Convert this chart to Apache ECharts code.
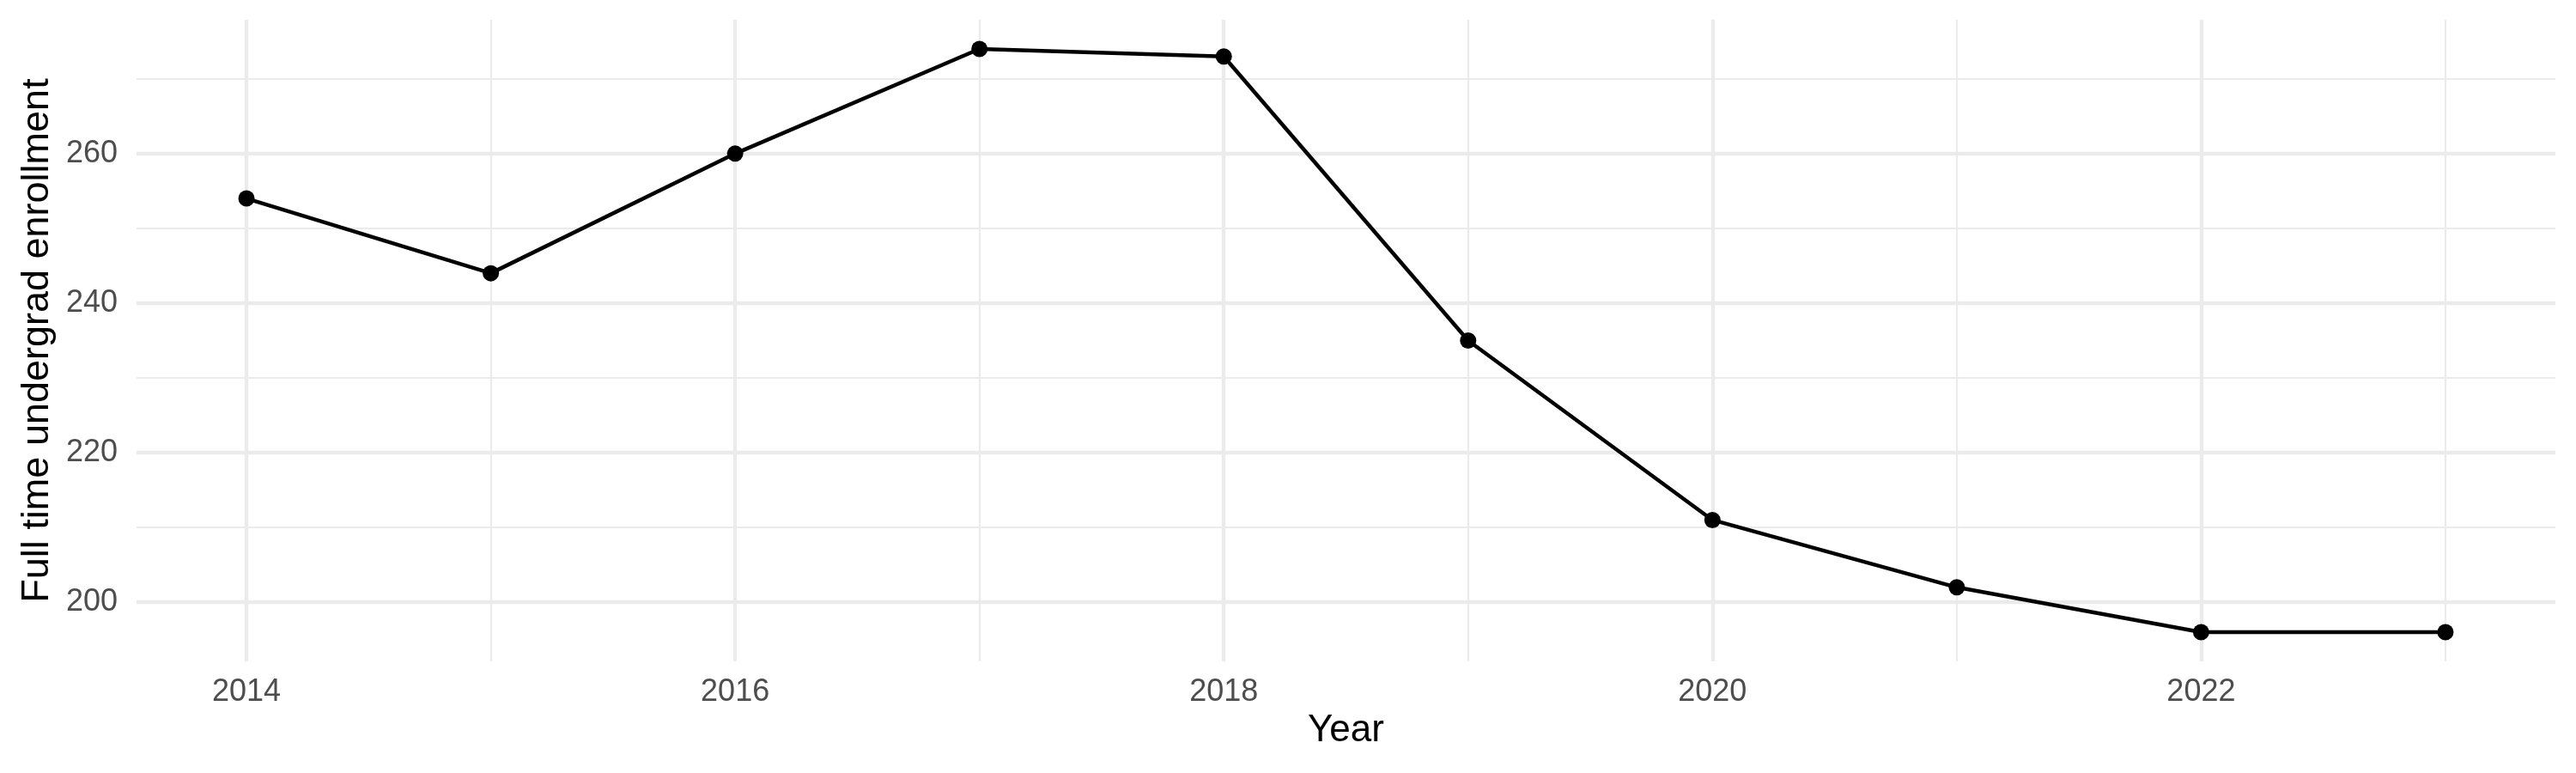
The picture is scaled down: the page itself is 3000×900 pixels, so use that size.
<!DOCTYPE html>
<html>
<head>
<meta charset="utf-8">
<script src="https://cdn.jsdelivr.net/npm/echarts@6/dist/echarts.min.js"></script>
<style>
html,body{margin:0;padding:0;background:#fff;}
#chart{width:3000px;height:900px;}
</style>
</head>
<body>
<div id="chart"></div>
<script>
const years = [2014, 2015, 2016, 2017, 2018, 2019, 2020, 2021, 2022, 2023];
const enrollment = [254, 244, 260, 274, 273, 235, 211, 202, 196, 196];
const xMajorTicks = [2014, 2016, 2018, 2020, 2022];
const xMinorTicks = [2015, 2017, 2019, 2021, 2023];
const yMajorTicks = [200, 220, 240, 260];
const yMinorTicks = [210, 230, 250, 270];
const xRange = [2013.55, 2023.45];
const yRange = [192.1, 277.9];
const xTitle = 'Year';
const yTitle = 'Full time undergrad enrollment';

const FONT = 'Liberation Sans';
const chart = echarts.init(document.getElementById('chart'), null, {renderer: 'canvas'});

const gridColor = '#EBEBEB';
const hidden = {show: false};

chart.setOption({
  backgroundColor: '#ffffff',
  animation: false,
  grid: {left: 159, right: 24, top: 23, bottom: 130, containLabel: false},
  xAxis: [
    {
      type: 'value', position: 'bottom', min: xRange[0], max: xRange[1],
      name: xTitle, nameLocation: 'middle', nameGap: 59,
      nameTextStyle: {fontFamily: FONT, fontSize: 44, color: '#000000'},
      axisLine: hidden,
      axisTick: {show: false, customValues: xMajorTicks},
      axisLabel: {customValues: xMajorTicks, fontFamily: FONT, fontSize: 36, color: '#4D4D4D', margin: 18,
                  formatter: v => String(v)},
      splitLine: {show: true, lineStyle: {color: gridColor, width: 4.3}}
    },
    {
      type: 'value', position: 'bottom', min: xRange[0], max: xRange[1],
      axisLine: hidden,
      axisTick: {show: false, customValues: xMinorTicks},
      axisLabel: {show: false, customValues: xMinorTicks},
      splitLine: {show: true, lineStyle: {color: gridColor, width: 2.2}}
    }
  ],
  yAxis: [
    {
      type: 'value', position: 'left', min: yRange[0], max: yRange[1],
      name: yTitle, nameLocation: 'middle', nameGap: 93, nameRotate: 90,
      nameTextStyle: {fontFamily: FONT, fontSize: 45, color: '#000000'},
      axisLine: hidden,
      axisTick: {show: false, customValues: yMajorTicks},
      axisLabel: {customValues: yMajorTicks, fontFamily: FONT, fontSize: 36, color: '#4D4D4D', margin: 22,
                  formatter: v => String(v)},
      splitLine: {show: true, lineStyle: {color: gridColor, width: 4.3}}
    },
    {
      type: 'value', position: 'left', min: yRange[0], max: yRange[1],
      axisLine: hidden,
      axisTick: {show: false, customValues: yMinorTicks},
      axisLabel: {show: false, customValues: yMinorTicks},
      splitLine: {show: true, lineStyle: {color: gridColor, width: 2.2}}
    }
  ],
  series: [{
    type: 'line',
    xAxisIndex: 0, yAxisIndex: 0,
    data: years.map((y, i) => [y, enrollment[i]]),
    symbol: 'circle', symbolSize: 19, showSymbol: true,
    lineStyle: {color: '#000000', width: 4.5},
    itemStyle: {color: '#000000'},
    z: 10
  }]
});
</script>
</body>
</html>
